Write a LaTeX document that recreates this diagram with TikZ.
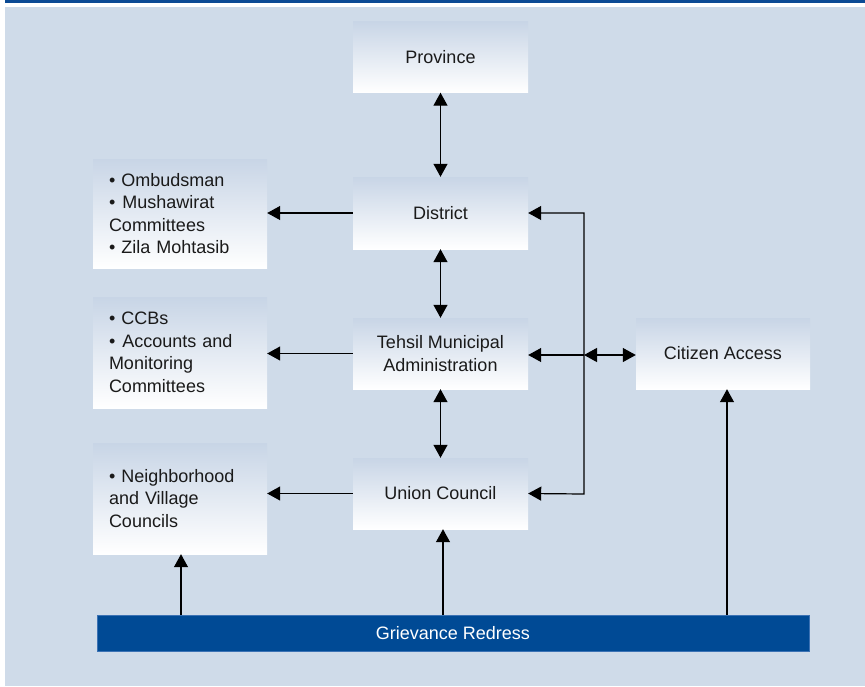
\documentclass[tikz,border=0pt]{standalone}
\usepackage{fontspec}
\setmainfont{Liberation Sans}
\usetikzlibrary{arrows.meta}
\definecolor{bg}{HTML}{CFDBE9}
\definecolor{boxtop}{HTML}{C8D5E6}
\definecolor{barblue}{HTML}{004A95}
\definecolor{barline}{HTML}{3C72B4}
\definecolor{topbar}{HTML}{0B4A94}
\definecolor{txt}{HTML}{1A1A1A}
\tikzset{
  every node/.style={font=\fontsize{18}{22.5}\selectfont, text=txt},
  gbox/.style={top color=boxtop, bottom color=white, draw=none,
    minimum width=175pt, minimum height=71pt, inner sep=0pt, align=center},
  lbox/.style={top color=boxtop, bottom color=white, draw=none,
    minimum width=174pt, minimum height=110pt, inner xsep=16pt, inner ysep=0pt,
    text width=142pt, align=left},
  arr/.style={line width=1.2pt, -{Triangle[length=13pt,width=14pt]}},
  dbl/.style={line width=1.2pt, {Triangle[length=13pt,width=14pt]}-{Triangle[length=13pt,width=14pt]}}
}
\begin{document}
\begin{tikzpicture}[x=1pt,y=-1pt]
\useasboundingbox (0,0) rectangle (865,686);
\fill[white] (0,0) rectangle (865,686);
\fill[topbar] (5,0) rectangle (865,2.8);
\fill[bg] (5,7) rectangle (865,686);

% centre column
\node[gbox] (province) at (440.5,57) {Province};
\node[gbox, minimum height=72pt] (district) at (440.5,213) {District};
\node[gbox] (tehsil) at (440.5,353.5) {Tehsil Municipal\\Administration};
\node[gbox] (union) at (440.5,493.5) {Union Council};
\node[gbox, minimum width=174pt] (citizen) at (723,353.5) {Citizen Access};

% left column
\node[lbox, minimum height=109pt] (omb) at (180,213.5) {\textbullet\ Ombudsman\\\textbullet\hspace{7pt}Mushawirat\\Committees\\\textbullet\ Zila Mohtasib};
\node[lbox, minimum height=111pt] (ccb) at (180,352.5) {\textbullet\ CCBs\\\textbullet\hspace{7pt}Accounts and\\Monitoring\\Committees};
\node[lbox, minimum height=111pt] (nbr) at (180,498.5) {\textbullet\ Neighborhood\\and Village\\Councils};

% grievance bar
\node[fill=barblue, draw=barline, line width=0.8pt, minimum width=712pt, minimum height=36pt,
  inner sep=0pt, text=white] (grievance) at (453,633) {Grievance Redress};

% vertical links
\draw[dbl] (province.south) -- (district.north);
\draw[dbl] (district.south) -- (tehsil.north);
\draw[dbl] (tehsil.south) -- (union.north);

% left links
\draw[arr] (district.west) -- (omb.east |- district.west);
\draw[arr] (tehsil.west) -- (ccb.east |- tehsil.west);
\draw[arr] (union.west) -- (nbr.east |- union.west);

% right side loop
\coordinate (jt) at (584,213);
\coordinate (jm) at (584,355);
\coordinate (jb) at (584,494);
\draw[dbl] (district.east) -- (jt) -- (jb) -- (union.east);
\draw[arr] (jm) -- (tehsil.east |- jm);
\draw[dbl] (jm) -- (citizen.west |- jm);

% grievance up links
\coordinate (g1) at (181,0);
\coordinate (g2) at (443,0);
\coordinate (g3) at (727,0);
\draw[arr] (grievance.north -| g1) -- (nbr.south -| g1);
\draw[arr] (grievance.north -| g2) -- (union.south -| g2);
\draw[arr] (grievance.north -| g3) -- (citizen.south -| g3);
\end{tikzpicture}
\end{document}
